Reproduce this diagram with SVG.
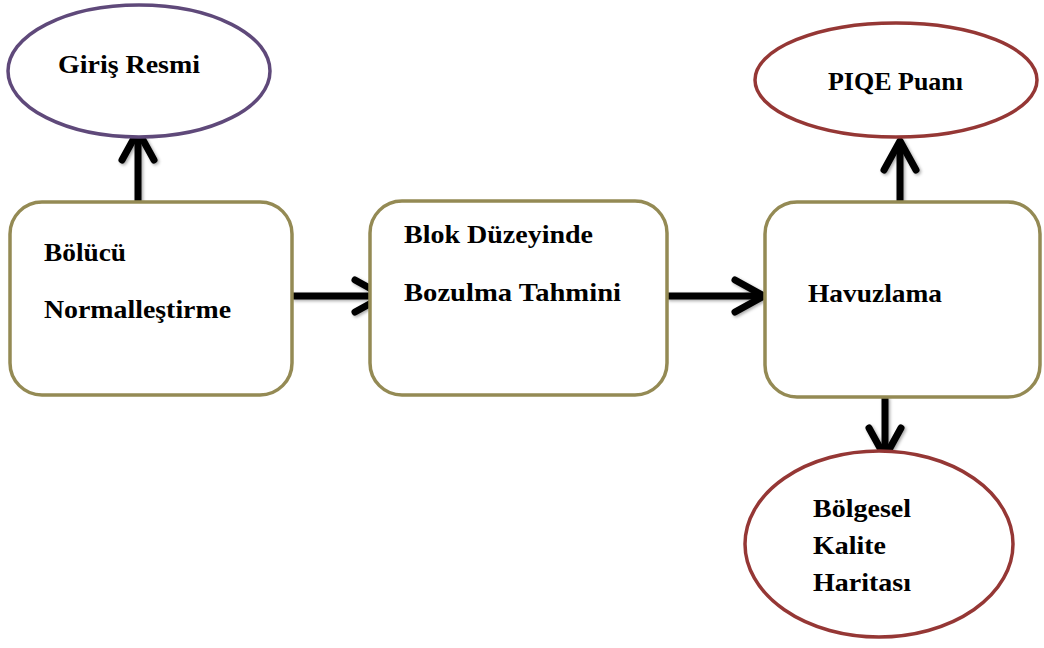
<svg xmlns="http://www.w3.org/2000/svg" width="1044" height="648" viewBox="0 0 1044 648">
<style>
.box{fill:#fff;stroke:#948A54;stroke-width:3.5}
.ep{fill:#fff;stroke:#5F497A;stroke-width:3.5}
.er{fill:#fff;stroke:#953735;stroke-width:3.5}
.t{font-family:"Liberation Serif","Times New Roman",serif;font-weight:bold;font-size:25px;fill:#000}
.c{fill:none;stroke:#000;stroke-width:7;stroke-linecap:butt}
</style>
<defs>
<marker id="ah" markerUnits="userSpaceOnUse" viewBox="0 0 44 44" markerWidth="44" markerHeight="44" refX="36" refY="22" orient="auto" overflow="visible">
<path d="M 7 6 L 36 22 L 7 38" fill="none" stroke="#000" stroke-width="7" stroke-linecap="round" stroke-linejoin="round"/>
</marker>
<filter id="sh" x="-20%" y="-20%" width="140%" height="140%">
<feDropShadow dx="1.5" dy="1.5" stdDeviation="1.5" flood-color="#000" flood-opacity="0.35"/>
</filter>
</defs>
<g id="connectors" filter="url(#sh)">
<path class="c" d="M 138 203 L 138 131" marker-end="url(#ah)"/>
<path class="c" d="M 292 296 L 384 296" marker-end="url(#ah)"/>
<path class="c" d="M 667 296 L 764 296" marker-end="url(#ah)"/>
<path class="c" d="M 900 202 L 900 141" marker-end="url(#ah)"/>
<path class="c" d="M 885 397 L 885 457" marker-end="url(#ah)"/>
</g>
<g id="giris">
<ellipse class="ep" cx="139" cy="71" rx="131" ry="66"/>
<text class="t" x="58" y="73" textLength="142" lengthAdjust="spacingAndGlyphs">Giriş Resmi</text>
</g>
<g id="bolucu">
<rect class="box" x="10" y="202" width="282" height="193" rx="32"/>
<text class="t" x="44" y="261" textLength="82" lengthAdjust="spacingAndGlyphs">Bölücü</text>
<text class="t" x="44" y="318" textLength="187" lengthAdjust="spacingAndGlyphs">Normalleştirme</text>
</g>
<g id="blok">
<rect class="box" x="370" y="201" width="297" height="194" rx="32"/>
<text class="t" x="404" y="243" textLength="189" lengthAdjust="spacingAndGlyphs">Blok Düzeyinde</text>
<text class="t" x="404" y="301" textLength="217" lengthAdjust="spacingAndGlyphs">Bozulma  Tahmini</text>
</g>
<g id="havuzlama">
<rect class="box" x="765" y="202" width="275" height="195" rx="32"/>
<text class="t" x="808" y="302" textLength="134" lengthAdjust="spacingAndGlyphs">Havuzlama</text>
</g>
<g id="piqe">
<ellipse class="er" cx="896" cy="80" rx="141" ry="57"/>
<text class="t" x="828" y="90" textLength="135" lengthAdjust="spacingAndGlyphs">PIQE Puanı</text>
</g>
<g id="bolgesel">
<ellipse class="er" cx="879" cy="544" rx="134" ry="93"/>
<text class="t" x="813" y="517" textLength="98" lengthAdjust="spacingAndGlyphs">Bölgesel</text>
<text class="t" x="813" y="554" textLength="73" lengthAdjust="spacingAndGlyphs">Kalite</text>
<text class="t" x="813" y="591" textLength="98" lengthAdjust="spacingAndGlyphs">Haritası</text>
</g>
</svg>
